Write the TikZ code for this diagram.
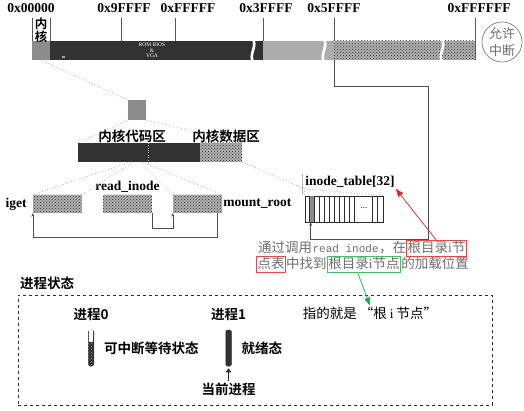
\documentclass[tikz,border=0pt]{standalone}
\usepackage{fontspec}
\setmainfont{Liberation Serif}
\setmonofont{Liberation Mono}
\newfontfamily\cjk{Noto Sans CJK SC}[BoldFont={Noto Sans CJK SC Bold}]
\usepackage{tikz}
\usetikzlibrary{arrows.meta,positioning,calc,patterns}
\definecolor{ink}{RGB}{45,45,45}
\definecolor{memdark}{RGB}{50,50,50}
\definecolor{memgray}{RGB}{140,140,140}
\definecolor{memlight}{RGB}{172,172,172}
\definecolor{memdot}{RGB}{175,175,175}
\definecolor{note}{RGB}{110,110,110}
\definecolor{redbox}{RGB}{238,70,70}
\definecolor{greenbox}{RGB}{70,190,100}
\definecolor{redarr}{RGB}{236,28,36}
\definecolor{greenarr}{RGB}{30,170,70}

\begin{document}
\begin{tikzpicture}[
  x=1pt,y=-1pt,
  seg/.style={inner sep=0pt,minimum height=19pt,anchor=west},
  dotfill/.style={fill=memdot,postaction={pattern=crosshatch dots,pattern color=gray!40!black}},
  tick/.style={draw=ink!80,line width=0.5pt},
  gap/.style={draw=white,line width=2.6pt},
  zoomln/.style={draw=gray!60,line width=1.1pt,line cap=round,dash pattern=on 0pt off 2.8pt},
  wire/.style={draw=ink!85,line width=0.6pt},
  addr/.style={inner sep=1pt,font=\fontsize{13.5}{15}\selectfont\bfseries},
  lbl/.style={inner sep=1pt,font=\cjk\bfseries\fontsize{13.5}{15}\selectfont},
  blk/.style={dotfill,inner sep=0pt,minimum width=49pt,minimum height=18pt},
  note/.style={inner sep=0pt,text=note,text height=10.5pt,text depth=2.5pt,font=\cjk\fontsize{13.5}{15}\selectfont},
  hl/.style={inner xsep=1pt,inner ysep=1.5pt,line width=1pt},
  procbar/.style={draw=ink,line width=0.5pt,rounded corners=1.5pt,inner sep=0pt,minimum width=5.5pt,minimum height=36pt},
  >={Stealth[length=3.5pt,width=3pt]}
]
\useasboundingbox (0,0) rectangle (524,411);
% memory map
\node[seg,fill=memgray,minimum width=18pt] (kern) at (32,50.5) {};
\node[seg,fill=memdark,minimum width=213pt] (rom) at (50,50.5) {};
\node[seg,fill=memlight,minimum width=71pt] (ext1) at (263,50.5) {};
\node[seg,dotfill,minimum width=141pt] (ext2) at (334,50.5) {};
\node[align=center,text=white,inner sep=0pt,font=\fontsize{5.5}{5.5}\selectfont] (rombios) at (152,50.5) {ROM BIOS\\\&\\VGA};
\fill[gray!75] (62,56) rectangle (64.5,58.5);
\foreach \x in {253,324,442}
  \draw[gap] (\x-1,38) .. controls (\x+6,46) and (\x-6,55) .. (\x+1,63);
\foreach \x in {32,50,121,175,263,334,475}
  \draw[tick] (\x,41) -- (\x,18);
\draw[tick] (475,41) -- (475,60);
\node[addr] (a0) at (31,8) {0x00000};
\node[addr] (a1) at (124,8) {0x9FFFF};
\node[addr] (a2) at (188,8) {0xFFFFF};
\node[addr] (a3) at (266,8) {0x3FFFF};
\node[addr] (a4) at (334,8) {0x5FFFF};
\node[addr] (a5) at (479,8) {0xFFFFFF};
\node[lbl,align=center,inner sep=0pt,font=\cjk\bfseries\fontsize{12.5}{13}\selectfont] (kname) at (41,30) {内\\核};
\node[circle,draw=note,text=note,line width=0.6pt,minimum size=40pt,inner sep=0pt,align=center,font=\cjk\fontsize{13}{17}\selectfont] (irq) at (502,42) {允许\\中断};
% kernel zoom
\node[fill=memgray,inner sep=0pt,minimum width=18pt,minimum height=20pt] (kmini) at (137,110) {};
\node[inner sep=0pt,fill=memdark,minimum width=122pt,minimum height=19pt] (kcode) at (139,152.5) {};
\node[inner sep=0pt,dotfill,minimum width=42pt,minimum height=19pt,right=0pt of kcode] (kdata) {};
\draw[gray!55,dotted] ($(kcode.north)+(9,0)$) -- ($(kcode.south)+(9,0)$);
\node[lbl] (codel) at (132,136) {内核代码区};
\node[lbl] (datal) at (226,136) {内核数据区};
% functions
\node[blk] (igetb) at (57.5,204) {};
\node[blk] (readb) at (127.5,204) {};
\node[blk] (mountb) at (197.5,204) {};
\node[addr,left=5pt of igetb] (igetl) {iget};
\node[addr,above=1pt of readb] (readl) {read\_inode};
\node[addr,right=0pt of mountb] (mountl) {mount\_root};
% inode table
\node[addr] (itlbl) at (350,182) {inode\_table[32]};
\node[draw=ink,line width=0.7pt,inner sep=0pt,minimum width=78pt,minimum height=26pt] (itab) at (344,209) {};
\fill[memgray] ($(itab.north west)+(5,0)$) rectangle ($(itab.south west)+(10,0)$);
\foreach \dx in {5,10,...,50,68,73}
  \draw[ink,line width=0.5pt] ($(itab.north west)+(\dx,0)$) -- ($(itab.south west)+(\dx,0)$);
\node[inner sep=0pt,font=\fontsize{9}{9}\selectfont] (itdots) at ($(itab.center)+(20,-1)$) {...};
% dotted zoom lines
\draw[zoomln] (kern.south) -- (kmini.north west);
\draw[zoomln] (kmini.south west) -- (kcode.north west);
\draw[zoomln] (kmini.south east) -- (kdata.north east);
\draw[zoomln] (kdata.south east) -- (itlbl.south west);
\draw[zoomln] ($(kcode.south)+(-9,0)$) -- (igetb.north west);
\draw[zoomln] ($(kcode.south)+(-6,0)$) -- (igetb.north east);
\draw[zoomln] ($(kcode.south)+(1,0)$) -- (mountb.north west);
\draw[zoomln] ($(kcode.south)+(4,0)$) -- (mountb.north east);
\draw[gray!60,line width=0.6pt] ($(itlbl.north west)+(-2,-1)$) -- ($(itlbl.south west)+(-2,6)$);
\draw[zoomln] (itlbl.south west) -- (itab.north east);
\draw[zoomln] (itlbl.south west) -- (itab.north west);
% calls
\draw[wire,->] (readb.south east) -- ++(0,15) -| (mountb.south west);
\draw[wire,->] ($(mountb.south east)+(-5,0)$) -- ++(0,24) -| (igetb.south west);
\draw[wire,->] (ext2.south west) -- (334,86) -- (428,86) -- (428,239) -| ($(itab.south west)+(6,0)$);
% note
\node[note,anchor=base west] (t1a) at (258,253) {通过调用};
\node[note,base right=0pt of t1a,font=\ttfamily\fontsize{11}{15}\selectfont] (t1b) {read inode};
\node[note,base right=0pt of t1b] (t1c) {，在};
\node[note,hl,draw=redbox,base right=0pt of t1c] (t1d) {根目录{\rmfamily i}节};
\node[note,hl,draw=redbox,anchor=base west] (t2a) at (256,269) {点表};
\node[note,base right=0pt of t2a] (t2b) {中找到};
\node[note,hl,draw=greenbox,base right=0pt of t2b] (t2c) {根目录{\rmfamily i}节点};
\node[note,base right=0pt of t2c] (t2d) {的加载位置};
% process states
\node[lbl] (pstitle) at (47,283) {进程状态};
\node[draw=ink,dashed,line width=0.7pt,inner sep=0pt,minimum width=474pt,minimum height=110pt] (pstate) at (255,350) {};
\node[procbar,fill=gray!35!black,postaction={pattern=crosshatch dots,pattern color=gray!70}] (p0bar) at (91,348) {};
\fill[white] ($(p0bar.north west)+(0.7,0.7)$) rectangle ($(p0bar.north east)+(-0.7,12)$);
\node[procbar,fill=memdark] (p1bar) at (228.5,348) {};
\node[lbl,above=8pt of p0bar] (p0) {进程0};
\node[lbl,above=8pt of p1bar] (p1) {进程1};
\node[lbl,right=9pt of p0bar] (p0st) {可中断等待状态};
\node[lbl,right=9pt of p1bar] (p1st) {就绪态};
\node[lbl] (cur) at (228.5,389) {当前进程};
\draw[ink,line width=1.6pt,-{Triangle[length=4pt,width=5.5pt]},shorten >=2pt] (cur.north) -- (p1bar.south);
\node[inner sep=1pt,font=\cjk\fontsize{13.5}{15}\selectfont] (ptrtxt) at (370,313) {指的就是 “根 {\rmfamily i} 节点”};
% highlights
\draw[redarr,line width=0.7pt,-{Triangle[length=8pt,width=6pt]}] (t1d.north) -- (itlbl.south east);
\draw[greenarr,line width=0.7pt,-{Triangle[length=8pt,width=6pt]}] ($(t2c.south)+(-6,0)$) -- (ptrtxt.north);
\end{tikzpicture}
\end{document}
